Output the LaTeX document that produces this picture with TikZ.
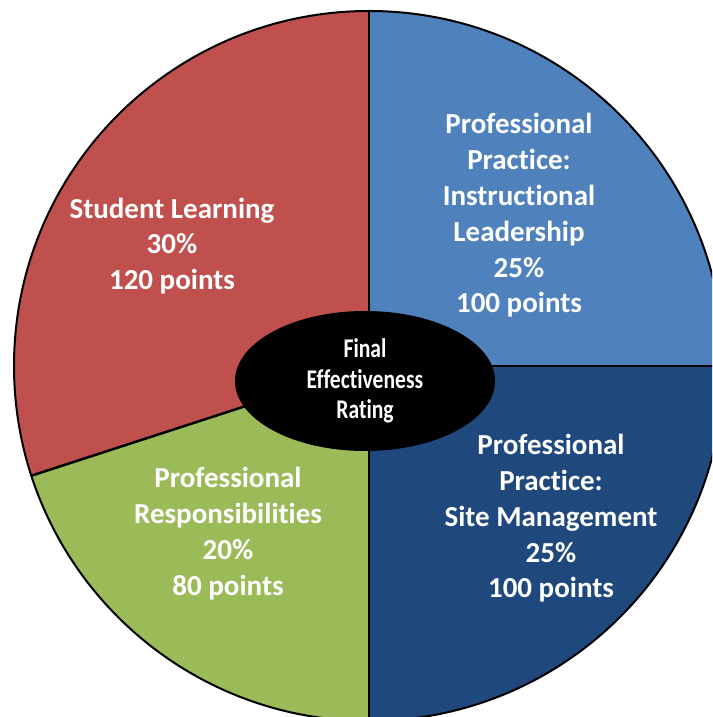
\documentclass[tikz,border=0pt]{standalone}
\usepackage{fontspec}
\setmainfont{Carlito}[Ligatures={NoCommon}]
\newfontfamily\narrowfont{Carlito}[FakeStretch=0.8, Ligatures={NoCommon}]
\usetikzlibrary{shapes.geometric,calc}
\definecolor{cred}{HTML}{C0504D}
\definecolor{cblue}{HTML}{4F81BD}
\definecolor{cdark}{HTML}{1F497D}
\definecolor{cgreen}{HTML}{9BBB59}
\tikzset{
  divider/.style={draw=black, line width=2.5pt},
  label/.style={text=white, align=center, font=\bfseries\fontsize{29}{35.8}\selectfont, inner sep=0pt},
  centerlabel/.style={text=white, align=center, font=\narrowfont\bfseries\fontsize{27}{30.5}\selectfont, inner sep=0pt}
}
\begin{document}
\begin{tikzpicture}[x=1pt,y=1pt]
\useasboundingbox (0,0) rectangle (712,717);
\clip (0,0) rectangle (712,717);
\coordinate (c) at (369,351);
\fill[cblue] (c) -- ++(0:355) arc[start angle=0,end angle=90,radius=355] -- cycle;
\fill[cred] (c) -- ++(90:355) arc[start angle=90,end angle=198,radius=355] -- cycle;
\fill[cgreen] (c) -- ++(198:355) arc[start angle=198,end angle=270,radius=355] -- cycle;
\fill[cdark] (c) -- ++(270:355) arc[start angle=270,end angle=360,radius=355] -- cycle;
\coordinate (e0) at ($(c)+(0:355)$);
\coordinate (e90) at ($(c)+(90:355)$);
\coordinate (e198) at ($(c)+(198:355)$);
\coordinate (e270) at ($(c)+(270:355)$);
\draw[divider] (c) -- (e0);
\draw[divider] (c) -- (e90);
\draw[divider] (c) -- (e198);
\draw[divider] (c) -- (e270);
\draw[black, line width=2pt] (c) circle[radius=355];
\node[ellipse, fill=black, minimum width=260, minimum height=140, inner sep=0pt] (rating) at (365,336) {};
\node[centerlabel] (ratingtext) at (rating.center) {Final\\Effectiveness\\Rating};
\node[label] (student) at (172,471) {Student Learning\\30\%\\120 points};
\node[label] (instr) at (519,501.5) {Professional\\Practice:\\Instructional\\Leadership\\25\%\\100 points};
\node[label] (site) at (551,198.5) {Professional\\Practice:\\Site Management\\25\%\\100 points};
\node[label] (resp) at (228,183.5) {Professional\\Responsibilities\\20\%\\80 points};
\end{tikzpicture}
\end{document}
